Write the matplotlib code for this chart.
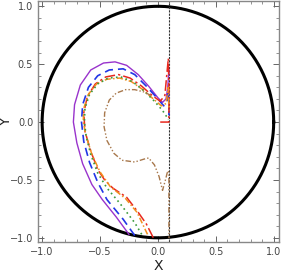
import numpy as np
import matplotlib
matplotlib.use("Agg")
import matplotlib.pyplot as plt
from matplotlib.ticker import MultipleLocator

# boundary curves (x, y)
purple_x = [-0.25, -0.36, -0.48, -0.57, -0.65, -0.70, -0.73, -0.72, -0.67, -0.58,
            -0.47, -0.37, -0.27, -0.17, -0.08, 0.00, 0.04, 0.07, 0.085, 0.095]
purple_y = [-0.97, -0.82, -0.67, -0.54, -0.36, -0.18, 0.00, 0.15, 0.32, 0.45,
            0.51, 0.52, 0.49, 0.41, 0.31, 0.21, 0.17, 0.20, 0.30, 0.45]

blue_x = [-0.20, -0.30, -0.44, -0.52, -0.59, -0.64, -0.66, -0.65, -0.60, -0.52,
          -0.42, -0.30, -0.20, -0.10, 0.00, 0.05, 0.08, 0.09, 0.095, 0.095]
blue_y = [-0.98, -0.84, -0.67, -0.52, -0.35, -0.17, 0.00, 0.15, 0.30, 0.40,
          0.45, 0.46, 0.41, 0.31, 0.20, 0.14, 0.18, 0.27, 0.15, 0.02]

red_x = [-0.04, -0.10, -0.17, -0.27, -0.39, -0.46, -0.52, -0.58, -0.63, -0.64,
         -0.61, -0.54, -0.45, -0.34, -0.24, -0.14, -0.05, 0.02, 0.06, 0.09,
         0.095, 0.095, 0.02]
red_y = [-0.999, -0.88, -0.78, -0.65, -0.57, -0.50, -0.41, -0.25, -0.08, 0.08,
         0.22, 0.33, 0.39, 0.41, 0.38, 0.31, 0.23, 0.18, 0.23, 0.55,
         0.30, 0.00, 0.00]

orange_x = [-0.09, -0.18, -0.28, -0.41, -0.50, -0.57, -0.62, -0.645, -0.64, -0.60,
            -0.53, -0.44, -0.33, -0.23, -0.13, -0.04, 0.03, 0.07, 0.09, 0.095]
orange_y = [-0.97, -0.78, -0.66, -0.56, -0.43, -0.28, -0.12, 0.00, 0.12, 0.24,
            0.33, 0.37, 0.38, 0.35, 0.28, 0.20, 0.14, 0.16, 0.30, 0.10]

green_x = [-0.14, -0.20, -0.33, -0.44, -0.52, -0.58, -0.62, -0.635, -0.63, -0.59,
           -0.52, -0.43, -0.32, -0.22, -0.12, -0.03, 0.04, 0.08, 0.09]
green_y = [-0.97, -0.87, -0.70, -0.57, -0.44, -0.28, -0.12, 0.00, 0.12, 0.24,
           0.33, 0.38, 0.39, 0.35, 0.27, 0.18, 0.10, 0.04, 0.02]

brown_x = [-0.06, -0.12, -0.20, -0.28, -0.36, -0.42, -0.46, -0.465, -0.44,
           -0.38, -0.31, -0.20, -0.12, -0.08, -0.03, 0.01, 0.04, 0.065, 0.08,
           0.09, 0.095, 0.095]
brown_y = [0.23, 0.26, 0.28, 0.28, 0.25, 0.19, 0.08, -0.04, -0.16,
           -0.27, -0.33, -0.345, -0.32, -0.31, -0.37, -0.47, -0.59, -0.50, -0.44,
           -0.42, -0.45, -1.00]

wall_x = 0.1
radius = 1.0

fig = plt.figure(figsize=(2.82, 2.73), dpi=100)
ax = fig.add_axes([0.135, 0.114, 0.854, 0.882])

theta = np.linspace(0, 2 * np.pi, 400)
ax.plot(radius * np.cos(theta), radius * np.sin(theta), color="black", lw=2.2)
ax.axvline(wall_x, color="#333333", lw=0.8, ls=(0, (2, 1)))

ax.plot(purple_x, purple_y, color="#9933CC", lw=1.0)
ax.plot(blue_x, blue_y, color="#2236E6", lw=1.2, ls=(0, (5, 3)))
ax.plot(red_x, red_y, color="#E8281E", lw=1.1, ls=(0, (7, 2, 1.5, 2)))
ax.plot(orange_x, orange_y, color="#F2901E", lw=1.1, ls=(0, (4, 1.5, 1, 1.5)))
ax.plot(green_x, green_y, color="#3C9A3C", lw=1.2, ls=(0, (1, 2)))
ax.plot(brown_x, brown_y, color="#A8784C", lw=1.0, ls=(0, (4, 1.5, 1, 1.5, 1, 1.5)))

ax.set_xlim(-1.035, 1.045)
ax.set_ylim(-1.035, 1.045)
ax.xaxis.set_major_locator(MultipleLocator(0.5))
ax.yaxis.set_major_locator(MultipleLocator(0.5))
ax.xaxis.set_minor_locator(MultipleLocator(0.1))
ax.yaxis.set_minor_locator(MultipleLocator(0.1))
ax.xaxis.set_major_formatter(lambda v, p: f"{v:.1f}".replace("-", "\u2212"))
ax.yaxis.set_major_formatter(lambda v, p: f"{v:.1f}".replace("-", "\u2212"))
ax.tick_params(which="both", direction="in", top=True, right=True,
               labelsize=7, labelcolor="#444444", color="#666666")
ax.tick_params(which="major", length=4, width=0.7)
ax.tick_params(which="minor", length=2, width=0.5)
for s in ax.spines.values():
    s.set_color("#888888")
    s.set_linewidth(1.0)

ax.set_xlabel("X", fontsize=10, color="#222222")
ax.set_ylabel("Y", fontsize=10, color="#222222")
ax.xaxis.set_label_coords(0.5, -0.07)
ax.yaxis.set_label_coords(-0.105, 0.5)

fig.savefig("out.png", dpi=100)
